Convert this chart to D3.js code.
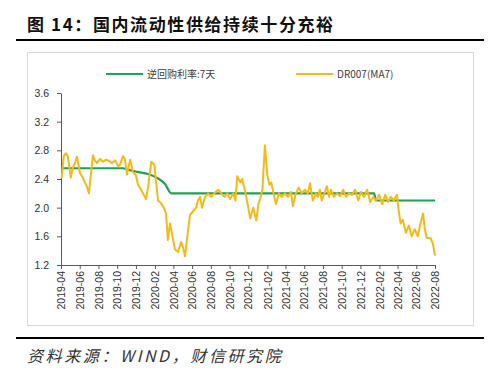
<!DOCTYPE html>
<html>
<head>
<meta charset="utf-8">
<script src="https://cdn.jsdelivr.net/npm/d3@7"></script>
<style>
  body { margin: 0; background: #fff; }
  svg { display: block; font-family: "Liberation Sans", Arial, sans-serif; }
  .axis text { fill: #333; font-size: 10.5px; }
  .axis path, .axis line { stroke: #595959; }
</style>
</head>
<body>
<div id="chart"></div>
<script>
// 逆回购利率:7天 (green)
const repoDates = ['2019-04-01','2019-10-20','2019-11-05','2019-12-05','2020-01-10','2020-02-10','2020-03-05','2020-03-25','2022-01-15','2022-01-20','2022-08-01'];
const repoValues = [2.55, 2.55, 2.53, 2.50, 2.47, 2.41, 2.33, 2.20, 2.20, 2.10, 2.10];

// DR007(MA7) (yellow)
const drDates = ['2019-04-03','2019-04-10','2019-04-17','2019-04-23','2019-05-03','2019-05-09','2019-05-16','2019-05-23','2019-06-02','2019-06-11','2019-06-18','2019-06-24','2019-07-01','2019-07-07','2019-07-14','2019-07-20','2019-07-27','2019-08-06','2019-08-16','2019-08-26','2019-09-05','2019-09-14','2019-09-24','2019-10-04','2019-10-10','2019-10-20','2019-10-26','2019-11-02','2019-11-12','2019-11-21','2019-12-01','2019-12-08','2019-12-18','2019-12-24','2020-01-03','2020-01-10','2020-01-20','2020-01-30','2020-02-05','2020-02-11','2020-02-21','2020-03-01','2020-03-08','2020-03-14','2020-03-21','2020-03-27','2020-04-06','2020-04-16','2020-04-26','2020-05-02','2020-05-09','2020-05-15','2020-05-25','2020-06-04','2020-06-14','2020-06-20','2020-06-27','2020-07-03','2020-07-13','2020-07-23','2020-08-02','2020-08-12','2020-08-25','2020-09-04','2020-09-14','2020-09-24','2020-10-03','2020-10-13','2020-10-20','2020-10-26','2020-11-05','2020-11-11','2020-11-21','2020-12-01','2020-12-07','2020-12-17','2020-12-27','2021-01-03','2021-01-09','2021-01-16','2021-01-24','2021-02-01','2021-02-08','2021-02-14','2021-02-21','2021-03-01','2021-03-11','2021-03-20','2021-03-30','2021-04-09','2021-04-19','2021-04-25','2021-05-05','2021-05-14','2021-05-24','2021-06-03','2021-06-13','2021-06-20','2021-06-29','2021-07-09','2021-07-15','2021-07-22','2021-07-28','2021-08-08','2021-08-14','2021-08-21','2021-08-27','2021-09-06','2021-09-16','2021-09-26','2021-10-06','2021-10-15','2021-10-25','2021-11-04','2021-11-14','2021-11-24','2021-12-03','2021-12-13','2021-12-23','2022-01-02','2022-01-12','2022-01-21','2022-01-31','2022-02-10','2022-02-20','2022-03-01','2022-03-10','2022-03-20','2022-03-30','2022-04-05','2022-04-11','2022-04-18','2022-04-28','2022-05-08','2022-05-17','2022-05-27','2022-06-06','2022-06-13','2022-06-23','2022-06-29','2022-07-05','2022-07-18','2022-07-25','2022-08-01'];
const drValues = [2.41,2.72,2.76,2.72,2.42,2.55,2.62,2.71,2.48,2.42,2.35,2.30,2.20,2.45,2.73,2.66,2.62,2.68,2.64,2.67,2.65,2.62,2.66,2.58,2.60,2.72,2.68,2.46,2.67,2.50,2.45,2.32,2.25,2.20,2.12,2.30,2.64,2.60,2.35,2.10,2.06,2.00,1.92,1.55,1.78,1.65,1.42,1.38,1.52,1.45,1.32,1.55,1.90,1.95,2.00,2.10,2.15,2.00,2.15,2.20,2.15,2.20,2.25,2.20,2.15,2.20,2.12,2.20,2.10,2.44,2.35,2.40,2.22,2.00,1.85,2.00,1.82,2.05,2.13,2.25,2.87,2.45,2.32,2.35,2.20,2.05,2.20,2.15,2.20,2.15,2.22,2.02,2.20,2.28,2.20,2.25,2.20,2.34,2.10,2.20,2.15,2.25,2.10,2.22,2.30,2.15,2.25,2.15,2.20,2.16,2.25,2.15,2.20,2.18,2.25,2.10,2.22,2.15,2.25,2.08,2.15,2.10,2.18,2.05,2.18,2.08,2.15,2.10,2.18,1.95,1.78,1.83,1.65,1.75,1.60,1.70,1.60,1.75,1.92,1.70,1.58,1.57,1.50,1.33];

const yTicks = [1.2, 1.6, 2.0, 2.4, 2.8, 3.2, 3.6];
const xTickStart = '2019-04-01', xTickEnd = '2022-08-01';

const GREEN = '#21a153', GOLD = '#f6b917';
const W = 500, H = 377, m = { t: 93, r: 65, b: 112, l: 61 };
const parse = d3.timeParse('%Y-%m-%d');

const repo = repoDates.map((d, i) => ({ d: parse(d), v: repoValues[i] }));
const dr = drDates.map((d, i) => ({ d: parse(d), v: drValues[i] }));

const svg = d3.select('#chart').append('svg').attr('width', W).attr('height', H);

// title + rules
svg.append('text').attr('x', 27).attr('y', 31)
  .style('font-family', '"Noto Sans CJK SC", sans-serif').style('font-weight', 700)
  .style('font-size', '17px').style('letter-spacing', '1.6px').attr('fill', '#111')
  .text('图 14：国内流动性供给持续十分充裕');
svg.append('line').attr('x1', 16).attr('x2', 484).attr('y1', 40).attr('y2', 40)
  .attr('stroke', '#000').attr('stroke-width', 2);
svg.append('rect').attr('x', 27.5).attr('y', 52.5).attr('width', 446).attr('height', 273)
  .attr('fill', 'none').attr('stroke', '#d9d9d9');
svg.append('line').attr('x1', 16).attr('x2', 484).attr('y1', 338).attr('y2', 338)
  .attr('stroke', '#000').attr('stroke-width', 2);
svg.append('text').attr('x', 27).attr('y', 362)
  .style('font-family', '"Noto Sans CJK SC", sans-serif').style('font-style', 'italic')
  .style('font-size', '16px').style('letter-spacing', '2.6px').attr('fill', '#333')
  .text('资料来源：WIND，财信研究院');

const x = d3.scaleTime().domain([parse(xTickStart), parse(xTickEnd)]).range([m.l, W - m.r]);
const y = d3.scaleLinear().domain([1.2, 3.6]).range([H - m.b, m.t]);

svg.append('g').attr('class', 'axis').attr('transform', `translate(${m.l},0)`)
  .call(d3.axisLeft(y).tickValues(yTicks).tickFormat(d3.format('.1f')).tickSize(4).tickSizeOuter(0))
  .call(g => g.selectAll('text').attr('dx', '-5'));

const xt = d3.timeMonth.range(parse(xTickStart), d3.timeDay.offset(parse(xTickEnd), 1), 2);
svg.append('g').attr('class', 'axis').attr('transform', `translate(0,${H - m.b})`)
  .call(d3.axisBottom(x).tickValues(xt).tickFormat(d3.timeFormat('%Y-%m')).tickSize(4).tickSizeOuter(0))
  .call(g => g.selectAll('text').attr('transform', 'rotate(-90)')
    .attr('text-anchor', 'end').attr('x', -6).attr('y', 0).attr('dy', '0.35em'));

const line = d3.line().x(d => x(d.d)).y(d => y(d.v));
svg.append('path').datum(repo).attr('d', line.curve(d3.curveMonotoneX))
  .attr('fill', 'none').attr('stroke', GREEN).attr('stroke-width', 2.2);
svg.append('path').datum(dr).attr('d', line.curve(d3.curveLinear))
  .attr('fill', 'none').attr('stroke', GOLD).attr('stroke-width', 2).attr('stroke-linejoin', 'round');

// legend
const leg = [{ c: GREEN, t: '逆回购利率:7天', x: 106 }, { c: GOLD, t: 'DR007(MA7)', x: 296 }];
const lg = svg.append('g').selectAll('g').data(leg).join('g')
  .attr('transform', d => `translate(${d.x},74)`);
lg.append('line').attr('x2', 37).attr('stroke', d => d.c).attr('stroke-width', 2.2);
lg.append('text').attr('x', 41).attr('dy', '0.35em').style('font-size', '10px')
  .style('font-family', '"Noto Sans CJK SC", sans-serif').attr('fill', '#404040').text(d => d.t);
</script>
</body>
</html>
